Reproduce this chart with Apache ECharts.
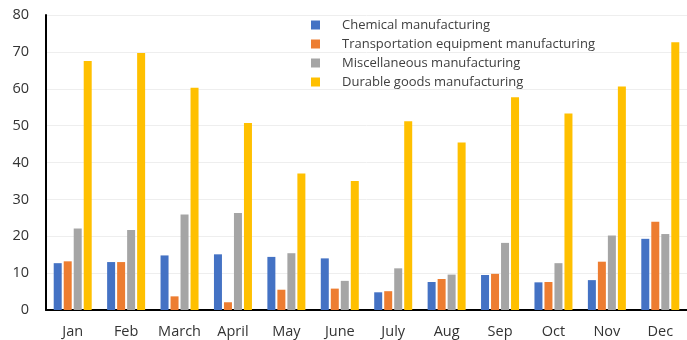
<!DOCTYPE html>
<html><head><meta charset="utf-8">
<script src="https://cdn.jsdelivr.net/npm/echarts@6/dist/echarts.min.js"></script>
<style>html,body{margin:0;padding:0;background:#fff}#c{width:687px;height:340px}</style>
</head><body><div id="c"></div>
<script>
const categories = ["Jan","Feb","March","April","May","June","July","Aug","Sep","Oct","Nov","Dec"];
const seriesNames = ["Chemical manufacturing","Transportation equipment manufacturing","Miscellaneous manufacturing","Durable goods manufacturing"];
const chemical = [12.7,13.0,14.8,15.1,14.4,14.0,4.8,7.6,9.5,7.5,8.1,19.3];
const transport = [13.2,13.0,3.7,2.1,5.5,5.8,5.1,8.4,9.8,7.6,13.1,23.9];
const misc = [22.1,21.7,25.9,26.3,15.4,7.9,11.3,9.6,18.2,12.7,20.2,20.6];
const durable = [67.5,69.7,60.3,50.7,37.0,35.0,51.2,45.4,57.7,53.3,60.6,72.6];
const colors = ["#4472C4","#ED7D31","#A5A5A5","#FFC000"];
const values = [chemical, transport, misc, durable];

const chart = echarts.init(document.getElementById('c'), null, {renderer:'canvas'});
chart.setOption({
  animation:false,
  color: colors,
  grid:{left:46,right:-6,top:15,bottom:30,containLabel:false},
  legend:{
    orient:'vertical', left:306, top:12, itemWidth:9, itemHeight:9, itemGap:3,
    icon:'rect',
    textStyle:{fontFamily:'Open Sans, Noto Sans, sans-serif',fontSize:13,color:'#404040',lineHeight:16,padding:[0,0,0,17]},
    data: seriesNames
  },
  xAxis:{
    type:'category', data:categories,
    axisLine:{lineStyle:{color:'#000',width:2}},
    axisTick:{show:false},
    axisLabel:{interval:0,fontFamily:'Open Sans, Noto Sans, sans-serif',fontSize:14.5,color:'#333',margin:14}
  },
  yAxis:{
    type:'value', min:0, max:80, interval:10,
    axisLine:{show:true,lineStyle:{color:'#000',width:2}},
    axisTick:{show:false},
    splitLine:{lineStyle:{color:'#eeeeee',width:1}},
    axisLabel:{fontFamily:'Open Sans, Noto Sans, sans-serif',fontSize:14.5,color:'#333',margin:17}
  },
  series: seriesNames.map((n,i)=>({
    name:n, type:'bar', data:values[i], barWidth:8, barGap:'25%',
    itemStyle:{color:colors[i]}
  }))
});
</script></body></html>
